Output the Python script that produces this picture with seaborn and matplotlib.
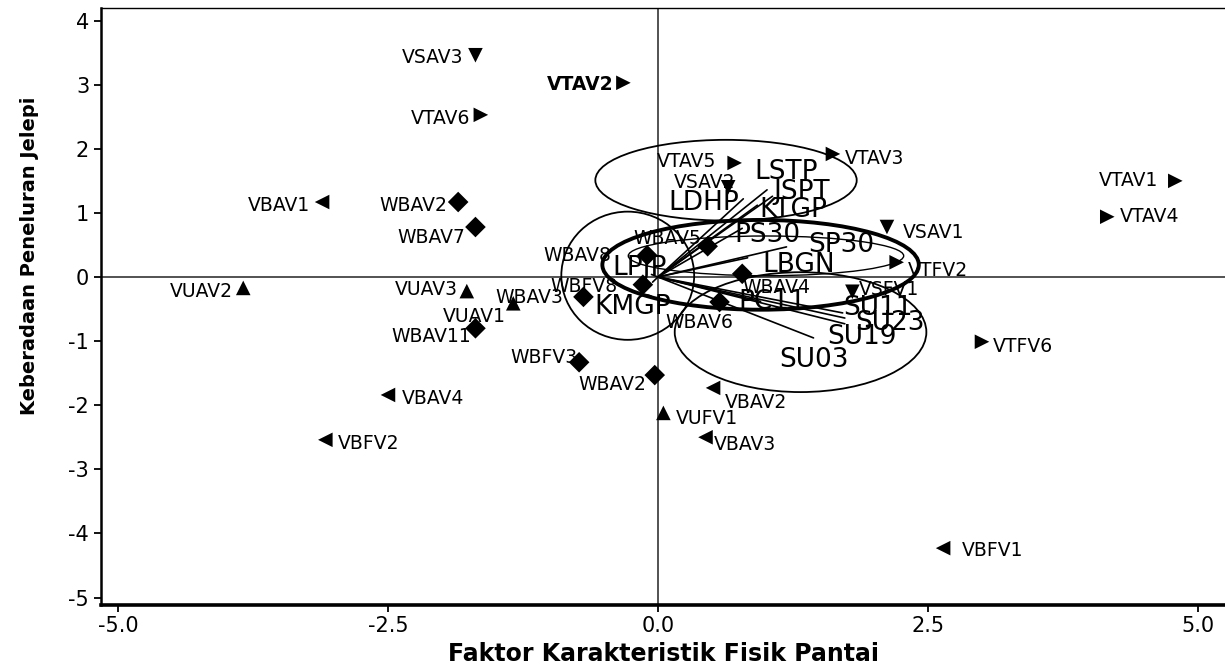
import matplotlib
matplotlib.use('Agg')
import matplotlib.pyplot as plt
from matplotlib.patches import Ellipse
import numpy as np
import pandas as pd
import seaborn as sns

# site scores (PCA plot)
site_names = ['VSAV3', 'VTAV2', 'VTAV6', 'VTAV5', 'VTAV3', 'VSAV2', 'VTAV1', 'VTAV4',
              'VBAV1', 'WBAV2', 'WBAV7', 'WBAV8', 'WBAV5', 'VSAV1', 'VTFV2', 'WBAV4',
              'VSFV1', 'VUAV2', 'VUAV3', 'VUAV1', 'WBAV3', 'WBFV8', 'WBAV11', 'WBFV3',
              'WBAV2', 'WBAV6', 'VBAV4', 'VBFV2', 'VUFV1', 'VBAV3', 'VBAV2', 'VTFV6', 'VBFV1']
site_x = [-1.69, -0.32, -1.64, 0.71, 1.62, 0.65, 4.79, 4.16,
          -3.11, -1.85, -1.69, -0.10, 0.46, 2.12, 2.21, 0.78,
          1.80, -3.84, -1.77, -1.34, -0.69, -0.14, -1.69, -0.73,
          -0.03, 0.57, -2.50, -3.08, 0.05, 0.44, 0.51, 3.00, 2.64]
site_y = [3.46, 3.03, 2.53, 1.78, 1.92, 1.40, 1.50, 0.94,
          1.17, 1.17, 0.78, 0.34, 0.48, 0.78, 0.23, 0.05,
          -0.23, -0.17, -0.22, -0.41, -0.31, -0.12, -0.80, -1.33,
          -1.53, -0.39, -1.84, -2.54, -2.12, -2.50, -1.73, -1.01, -4.23]

# variable loadings (vectors from the origin)
var_names = ['LSTP', 'JSPT', 'LDHP', 'KTGP', 'PS30', 'SP30', 'LBGN',
             'LPJP', 'KMGP', 'PC11', 'SU11', 'SU23', 'SU19', 'SU03']
var_x = [1.01, 1.06, 0.79, 0.92, 0.78, 1.19, 0.83, -0.06, -0.05, 0.95, 1.71, 1.73, 1.73, 1.44]
var_y = [1.36, 1.26, 1.22, 1.12, 0.76, 0.47, 0.30, 0.04, -0.08, -0.38, -0.56, -0.64, -0.73, -0.95]

x_ticks = [-5.0, -2.5, 0.0, 2.5, 5.0]
x_tick_labels = ['-5.0', '-2.5', '0.0', '2.5', '5.0']
y_ticks = [-5, -4, -3, -2, -1, 0, 1, 2, 3, 4]

x_title = 'Faktor Karakteristik Fisik Pantai'
y_title = 'Keberadaan Peneluran Jelepi'

# layout: label offsets in pixels (dx, dy, ha), same order as site_names
label_spots = [(-12, -2, 'right'), (-10, -2, 'right'), (-11, -4, 'right'), (-18, 1, 'right'),
               (12, -5, 'left'), (7, 5, 'right'), (-17, 0, 'right'), (13, 0, 'left'),
               (-12, -3, 'right'), (-11, -3, 'right'), (-10, -10, 'right'), (-36, 0, 'right'),
               (-6, 8, 'right'), (16, -5, 'left'), (11, -8, 'left'), (0, -14, 'left'),
               (6, 2, 'left'), (-10, -4, 'right'), (-9, 2, 'right'), (-7, -13, 'right'),
               (-20, -1, 'right'), (-25, -2, 'right'), (-4, -8, 'right'), (-2, 5, 'right'),
               (-8, -9, 'right'), (-20, -20, 'center'), (14, -4, 'left'), (13, -4, 'left'),
               (12, -6, 'left'), (8, -7, 'left'), (12, -15, 'left'), (11, -5, 'left'),
               (19, -2, 'left')]

# layout: where the variable names sit (data coords)
var_label_at = {'LSTP': (1.19, 1.64), 'JSPT': (1.33, 1.33), 'LDHP': (0.42, 1.15),
                'KTGP': (1.25, 1.05), 'PS30': (1.01, 0.66), 'SP30': (1.70, 0.50),
                'LBGN': (1.30, 0.19), 'LPJP': (-0.17, 0.14), 'KMGP': (-0.23, -0.47),
                'PC11': (1.06, -0.39), 'SU11': (2.04, -0.48), 'SU23': (2.15, -0.72),
                'SU19': (1.89, -0.94), 'SU03': (1.44, -1.29)}

# grouping ellipses: (cx, cy, w, h, lw)
ellipses = [(0.63, 1.51, 2.42, 1.26, 1.3),
            (-0.28, 0.02, 1.23, 2.00, 1.3),
            (0.95, 0.19, 2.93, 1.40, 2.8),
            (1.32, -0.86, 2.33, 1.87, 1.3),
            (1.00, 0.33, 2.55, 0.62, 1.0)]

df = pd.DataFrame({'name': site_names, 'x': site_x, 'y': site_y})
df['group'] = df['name'].str[:2]
marker_map = {'VS': 'v', 'VT': '>', 'VB': '<', 'VU': '^', 'WB': 'D'}

sns.set_style('white')
plt.rcParams['font.family'] = ['DejaVu Sans']
plt.rcParams['axes.unicode_minus'] = False
plt.rcParams['text.color'] = 'black'
plt.rcParams['axes.labelcolor'] = 'black'

fig = plt.figure(figsize=(12.25, 6.71), dpi=100)
ax = fig.add_axes([101 / 1225, 66 / 671, 1124 / 1225, 597 / 671])

ax.axhline(0, color='#444444', lw=1.3, zorder=1)
ax.axvline(0, color='#444444', lw=1.3, zorder=1)

sns.scatterplot(data=df, x='x', y='y', style='group', markers=marker_map,
                color='black', s=110, edgecolor='none', legend=False, ax=ax, zorder=3)

for i, row in df.iterrows():
    dx, dy, ha = label_spots[i]
    bold = row['name'] == 'VTAV2' and i == 1
    ax.annotate(row['name'], (row['x'], row['y']), xytext=(dx, dy),
                textcoords='offset pixels', ha=ha, va='center', fontsize=13.5,
                color='black', fontweight='bold' if bold else 'normal', zorder=4)

for name, vx, vy in zip(var_names, var_x, var_y):
    ax.plot([0, vx], [0, vy], color='black', lw=1.2, zorder=2)
    lx, ly = var_label_at[name]
    ax.text(lx, ly, name, ha='center', va='center', fontsize=19, color='black', zorder=4)

for cx, cy, w, h, lw in ellipses:
    ax.add_patch(Ellipse((cx, cy), w, h, fill=False, edgecolor='black', lw=lw, zorder=2))

ax.set_xlim(-5.157, 5.25)
ax.set_ylim(-5.117, 4.197)
ax.set_xticks(x_ticks)
ax.set_xticklabels(x_tick_labels)
ax.set_yticks(y_ticks)
ax.tick_params(axis='both', direction='out', length=5, width=1.3, labelsize=15,
               bottom=True, left=True, colors='black')
ax.tick_params(axis='x', pad=3)

ax.spines['right'].set_visible(False)
ax.spines['top'].set_linewidth(1.0)
ax.spines['left'].set_linewidth(1.8)
ax.spines['bottom'].set_linewidth(2.6)
for s in ax.spines.values():
    s.set_color('black')

label_font = dict(family=['Liberation Sans Narrow', 'DejaVu Sans'], fontweight='bold',
                  color='black')
ax.set_xlabel(x_title, labelpad=4, fontsize=17, **label_font)
ax.set_ylabel(y_title, fontsize=14, **label_font)
ax.yaxis.set_label_coords(-0.055, 0.585)

fig.savefig('out.png', dpi=100)
